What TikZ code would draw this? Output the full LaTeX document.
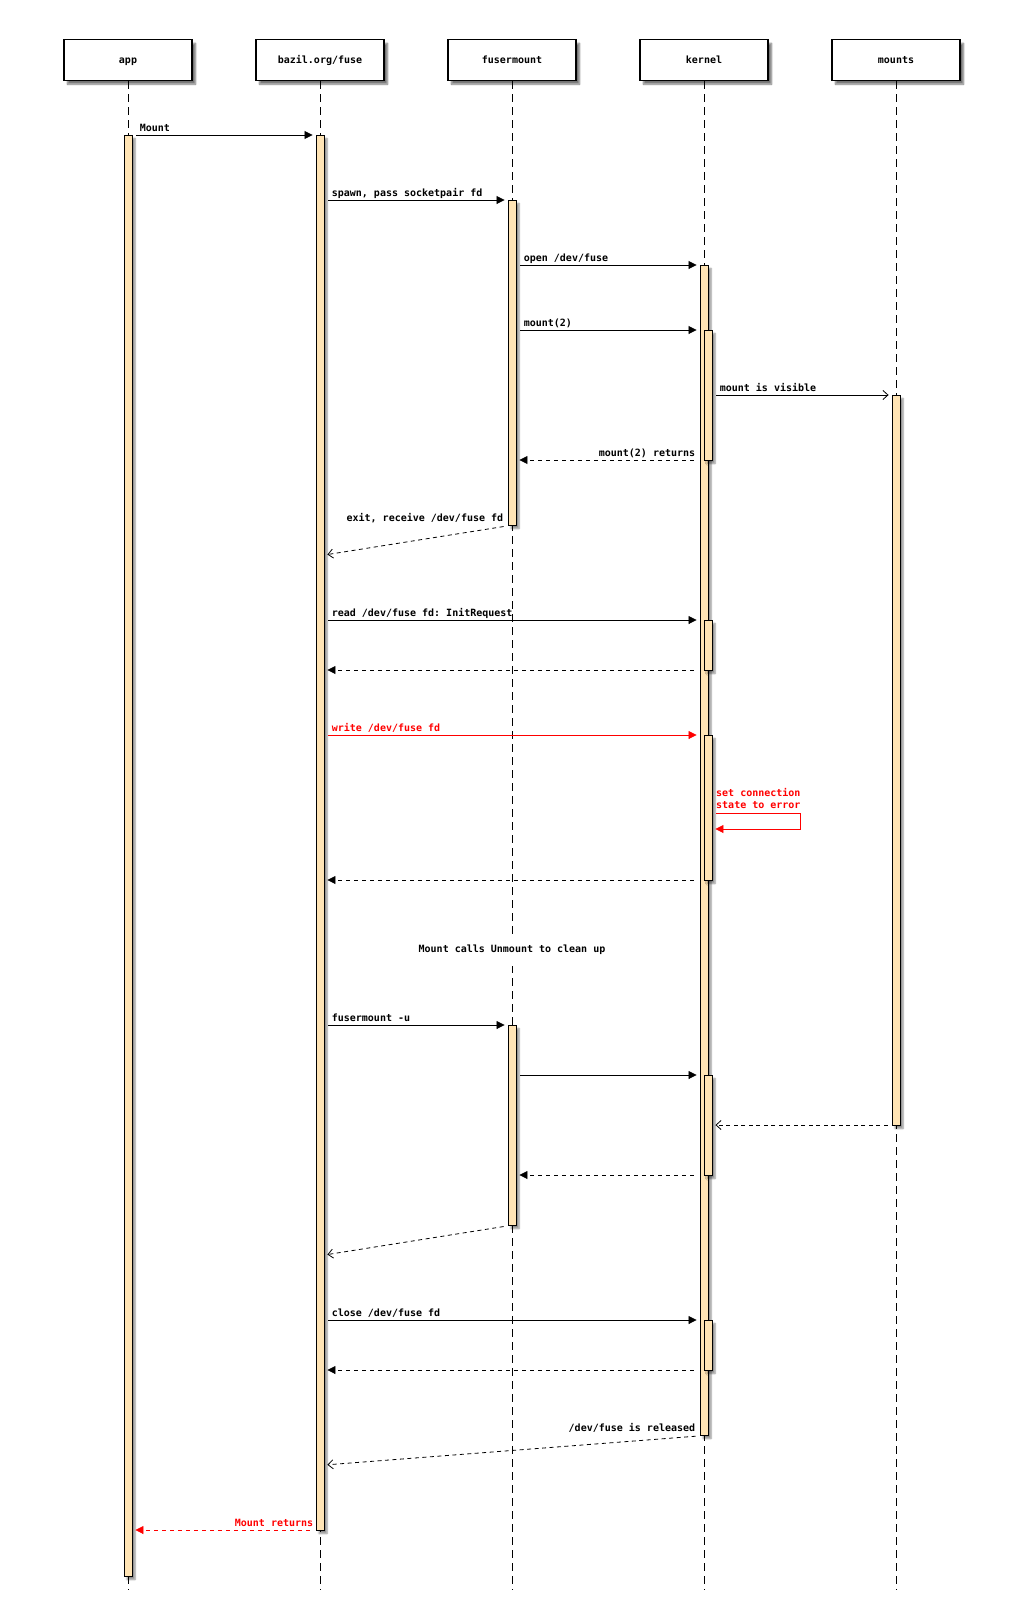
\documentclass[tikz,border=0pt]{standalone}
\usepackage{fontspec}
\setmonofont{DejaVu Sans Mono}
\usetikzlibrary{arrows.meta,shadows.blur}
\definecolor{moccasin}{HTML}{FFE4B5}
\tikzset{
    actor/.style={draw, line width=1.1pt, fill=white, minimum width=128pt, minimum height=40.7pt, inner sep=0pt,
        text height=9.5pt, text depth=2.5pt,
        font=\ttfamily\bfseries\fontsize{10}{12}\selectfont,
        blur shadow={shadow xshift=3.5pt, shadow yshift=-3.5pt, shadow blur steps=6, shadow opacity=55}},
    life/.style={line width=0.8pt, dash pattern=on 8pt off 5pt},
    bar/.style={draw, line width=0.9pt, fill=moccasin, minimum width=8pt, inner sep=0pt, anchor=north,
        blur shadow={shadow xshift=3pt, shadow yshift=-3pt, shadow blur steps=5, shadow opacity=45}},
    call/.style={line width=0.8pt, -{Triangle[length=8pt, width=8pt]}, shorten <=4pt, shorten >=3pt},
    reply/.style={call, dash pattern=on 4pt off 4pt, shorten <=6pt},
    async/.style={line width=0.8pt, -{Straight Barb[length=5pt, width=9pt]}, shorten <=4pt, shorten >=3pt},
    areply/.style={async, dash pattern=on 4pt off 3.5pt},
    lbl/.style={inner sep=0pt, font=\ttfamily\bfseries\fontsize{10}{12.6}\selectfont},
    lbll/.style={lbl, pos=0, anchor=base west, xshift=7pt, yshift=4pt},
    lblr/.style={lbl, pos=0, anchor=base east, xshift=-4pt, yshift=4pt},
    delay/.style={fill=white, inner sep=0pt, minimum width=192pt, minimum height=32pt,
        font=\ttfamily\bfseries\fontsize{10}{12}\selectfont}
}
\begin{document}
\begin{tikzpicture}[x=1pt, y=-1pt]
    \useasboundingbox (0,0) rectangle (1024,1603);
    \node[actor] (app) at (128,60.3) {app};
    \node[actor] (bazil) at (320,60.3) {bazil.org/fuse};
    \node[actor] (fuser) at (512,60.3) {fusermount};
    \node[actor] (kernel) at (704,60.3) {kernel};
    \node[actor] (mounts) at (896,60.3) {mounts};
    \foreach \p in {app, bazil, fuser, kernel, mounts}
        \draw[life] (\p.south) -- (\p |- 0,1590);

    \node[bar, minimum height=1441pt] (appbar) at (128,135) {};
    \node[bar, minimum height=1395pt] (bazilbar) at (320,135) {};
    \node[bar, minimum height=325pt] (fbar1) at (512,200) {};
    \node[bar, minimum height=200pt] (fbar2) at (512,1025) {};
    \node[bar, minimum height=1170pt] (kbar) at (704,265) {};
    \node[bar, minimum height=130pt] (kbar1) at (708,330) {};
    \node[bar, minimum height=50pt] (kbar2) at (708,620) {};
    \node[bar, minimum height=145pt] (kbar3) at (708,735) {};
    \node[bar, minimum height=100pt] (kbar4) at (708,1075) {};
    \node[bar, minimum height=50pt] (kbar5) at (708,1320) {};
    \node[bar, minimum height=730pt] (mbar) at (896,395) {};

    \draw[call] (appbar.east |- 0,135) -- node[lbll]{Mount} (bazilbar.west |- 0,135);
    \draw[call] (bazilbar.east |- 0,200) -- node[lbll]{spawn, pass socketpair fd} (fbar1.west |- 0,200);
    \draw[call] (fbar1.east |- 0,265) -- node[lbll]{open /dev/fuse} (kbar.west |- 0,265);
    \draw[call] (fbar1.east |- 0,330) -- node[lbll]{mount(2)} (kbar.west |- 0,330);
    \draw[async] (kbar1.east |- 0,395) -- node[lbll]{mount is visible} (mbar.west |- 0,395);
    \draw[reply] (kbar.west |- 0,460) -- node[lblr]{mount(2) returns} (fbar1.east |- 0,460);
    \draw[areply] (fbar1.south west) -- node[lblr]{exit, receive /dev/fuse fd} (bazilbar.east |- 0,555);
    \draw[call] (bazilbar.east |- 0,620) -- node[lbll]{read /dev/fuse fd: InitRequest} (kbar.west |- 0,620);
    \draw[reply] (kbar.west |- 0,670) -- (bazilbar.east |- 0,670);
    \draw[call, red] (bazilbar.east |- 0,735) -- node[lbll]{write /dev/fuse fd} (kbar.west |- 0,735);
    \draw[call, red] (kbar3.east |- 0,813) -- ++(88,0) -- ++(0,16) -- (kbar3.east |- 0,829);
    \node[lbl, red, align=left, anchor=south west] (selfnote) at (716,809) {set connection\\state to error};
    \draw[reply] (kbar.west |- 0,880) -- (bazilbar.east |- 0,880);

    \node[delay] (cleanup) at (512,950) {Mount calls Unmount to clean up};

    \draw[call] (bazilbar.east |- 0,1025) -- node[lbll]{fusermount -u} (fbar2.west |- 0,1025);
    \draw[call] (fbar2.east |- 0,1075) -- (kbar.west |- 0,1075);
    \draw[areply] (mbar.west |- 0,1125) -- (kbar4.east |- 0,1125);
    \draw[reply] (kbar.west |- 0,1175) -- (fbar2.east |- 0,1175);
    \draw[areply] (fbar2.south west) -- (bazilbar.east |- 0,1255);
    \draw[call] (bazilbar.east |- 0,1320) -- node[lbll]{close /dev/fuse fd} (kbar.west |- 0,1320);
    \draw[reply] (kbar.west |- 0,1370) -- (bazilbar.east |- 0,1370);
    \draw[areply] (kbar.south west) -- node[lblr]{/dev/fuse is released} (bazilbar.east |- 0,1465);
    \draw[reply, red] (bazilbar.west |- 0,1530) -- node[lblr, xshift=2pt]{Mount returns} (appbar.east |- 0,1530);
\end{tikzpicture}
\end{document}
